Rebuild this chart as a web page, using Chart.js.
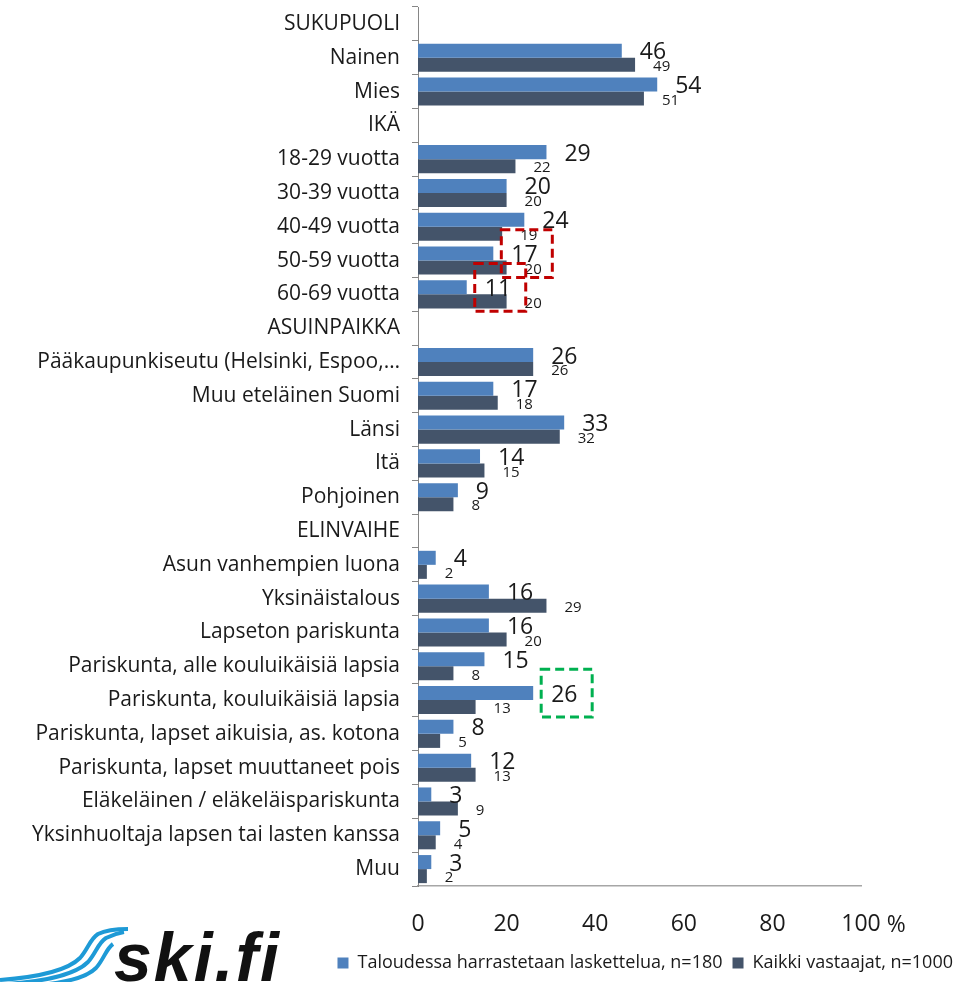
<!DOCTYPE html>
<html>
<head>
<meta charset="utf-8">
<script src="https://cdn.jsdelivr.net/npm/chart.js@4"></script>
<style>
html, body { margin: 0; padding: 0; background: #fff; }
#wrap { position: relative; width: 963px; height: 982px; overflow: hidden; }
#logo { position: absolute; left: 0; top: 900px; width: 300px; height: 82px; overflow: hidden; }
#logo span {
    position: absolute; left: 114px; top: 23px;
    font: italic bold 68px "Liberation Sans", Arial, sans-serif;
    letter-spacing: 2px;
    line-height: 1; color: #111;
}
</style>
</head>
<body>
<div id="wrap">
<canvas id="chart" width="963" height="982"></canvas>
<div id="logo">
  <svg width="140" height="82" style="position:absolute;left:0;top:0">
    <path d="M0,80 C40,77 68,70 80,58 C88,49 90,39 98,34 C106,30 116,29 128,29" fill="none" stroke="#1E9AD6" stroke-width="4"/>
    <path d="M8,84 C48,81 76,74 88,62 C96,53 98,43 106,38 C112,35 118,33 124,32" fill="none" stroke="#1E9AD6" stroke-width="4"/>
    <path d="M26,86 C62,84 86,78 96,68 C104,59 106,49 113,44" fill="none" stroke="#1E9AD6" stroke-width="4"/>
  </svg>
  <span>ski.fi</span>
</div>
</div>
<script>
// categories (header rows have no values)
const categories = [
    'SUKUPUOLI', 'Nainen', 'Mies',
    'IKÄ', '18-29 vuotta', '30-39 vuotta', '40-49 vuotta', '50-59 vuotta', '60-69 vuotta',
    'ASUINPAIKKA', 'Pääkaupunkiseutu (Helsinki, Espoo,…', 'Muu eteläinen Suomi', 'Länsi', 'Itä', 'Pohjoinen',
    'ELINVAIHE', 'Asun vanhempien luona', 'Yksinäistalous', 'Lapseton pariskunta',
    'Pariskunta, alle kouluikäisiä lapsia', 'Pariskunta, kouluikäisiä lapsia',
    'Pariskunta, lapset aikuisia, as. kotona', 'Pariskunta, lapset muuttaneet pois',
    'Eläkeläinen / eläkeläispariskunta', 'Yksinhuoltaja lapsen tai lasten kanssa', 'Muu'
];

const skiers = [
    null, 46, 54,
    null, 29, 20, 24, 17, 11,
    null, 26, 17, 33, 14, 9,
    null, 4, 16, 16, 15, 26, 8, 12, 3, 5, 3
];

const allRespondents = [
    null, 49, 51,
    null, 22, 20, 19, 20, 20,
    null, 26, 18, 32, 15, 8,
    null, 2, 29, 20, 8, 13, 5, 13, 9, 4, 2
];

const seriesNames = ['Taloudessa harrastetaan laskettelua, n=180', 'Kaikki vastaajat, n=1000'];
const xTicks = [0, 20, 40, 60, 80, 100];

// highlighted labels in the original
const highlights = [
    { category: '50-59 vuotta', color: '#C00000' },
    { category: '60-69 vuotta', color: '#C00000' },
    { category: 'Pariskunta, kouluikäisiä lapsia', color: '#00B050' }
];

const FONT = '"Open Sans", "Liberation Sans", sans-serif';

const valueLabels = {
    id: 'valueLabels',
    afterDatasetsDraw(chart) {
        const ctx = chart.ctx;
        chart.data.datasets.forEach((ds, i) => {
            const meta = chart.getDatasetMeta(i);
            meta.data.forEach((bar, j) => {
                const v = ds.data[j];
                if (v == null) return;
                ctx.save();
                ctx.font = (i === 0 ? '23px ' : '15px ') + FONT;
                ctx.fillStyle = '#1a1a1a';
                ctx.textBaseline = 'middle';
                ctx.fillText(String(v), bar.x + 18, bar.y + 2);
                ctx.restore();
            });
        });

        // dashed boxes
        const yScale = chart.scales.y;
        const band = (yScale.bottom - yScale.top) / categories.length;
        const meta0 = chart.getDatasetMeta(0);
        highlights.forEach(h => {
            const idx = categories.indexOf(h.category);
            const bar = meta0.data[idx];
            const yc = yScale.getPixelForValue(idx);
            ctx.save();
            ctx.strokeStyle = h.color;
            ctx.lineWidth = 3;
            ctx.setLineDash([9, 5]);
            ctx.strokeRect(bar.x + 8, yc - band / 2 - 14, 51, band + 14);
            ctx.restore();
        });

        // "%" after the last x tick
        const xs = chart.scales.x;
        ctx.save();
        ctx.font = '23px ' + FONT;
        ctx.fillStyle = '#1a1a1a';
        ctx.textBaseline = 'middle';
        const px = xs.getPixelForValue(100);
        ctx.fillText(' %', px + ctx.measureText('100').width / 2, xs.top + 39);
        ctx.restore();
    }
};

const chart = new Chart(document.getElementById('chart').getContext('2d'), {
    type: 'bar',
    data: {
        labels: categories,
        datasets: [{
            label: seriesNames[0],
            data: skiers,
            backgroundColor: '#4F81BD',
            categoryPercentage: 0.83,
            barPercentage: 1.0,
            borderWidth: 0
        }, {
            label: seriesNames[1],
            data: allRespondents,
            backgroundColor: '#44546A',
            categoryPercentage: 0.83,
            barPercentage: 1.0,
            borderWidth: 0
        }]
    },
    options: {
        indexAxis: 'y',
        responsive: false,
        animation: false,
        layout: { padding: { top: 7, right: 0, left: 0, bottom: 0 } },
        plugins: {
            tooltip: { enabled: false },
            legend: {
                position: 'bottom',
                align: 'end',
                labels: {
                    boxWidth: 11,
                    boxHeight: 11,
                    padding: 10,
                    color: '#1a1a1a',
                    font: { family: FONT, size: 18 }
                }
            }
        },
        scales: {
            x: {
                min: 0,
                max: 100,
                afterBuildTicks: s => { s.ticks = xTicks.map(v => ({ value: v })); },
                afterFit: s => { s.height = 58; s.paddingLeft = 0; s.paddingRight = 0; },
                grid: { display: false, drawTicks: false },
                border: { color: '#A6A6A6', width: 1.5 },
                ticks: {
                    padding: 25,
                    color: '#1a1a1a',
                    font: { family: FONT, size: 23 }
                }
            },
            y: {
                afterFit: s => { s.width = 418; s.paddingTop = 0; s.paddingBottom = 0; },
                grid: { drawOnChartArea: false, drawTicks: true, tickLength: 6, color: '#868686', offset: true },
                border: { color: '#868686' },
                ticks: {
                    autoSkip: false,
                    padding: 12,
                    color: '#1a1a1a',
                    font: { family: FONT, size: 21 }
                }
            },
            // empty right-hand axis keeps the space beside the plot free
            yRight: {
                type: 'category',
                position: 'right',
                display: true,
                afterFit: s => { s.width = 102; s.paddingTop = 0; s.paddingBottom = 0; },
                grid: { display: false, drawTicks: false },
                border: { display: false },
                ticks: { display: false }
            }
        }
    },
    plugins: [valueLabels]
});
</script>
</body>
</html>
